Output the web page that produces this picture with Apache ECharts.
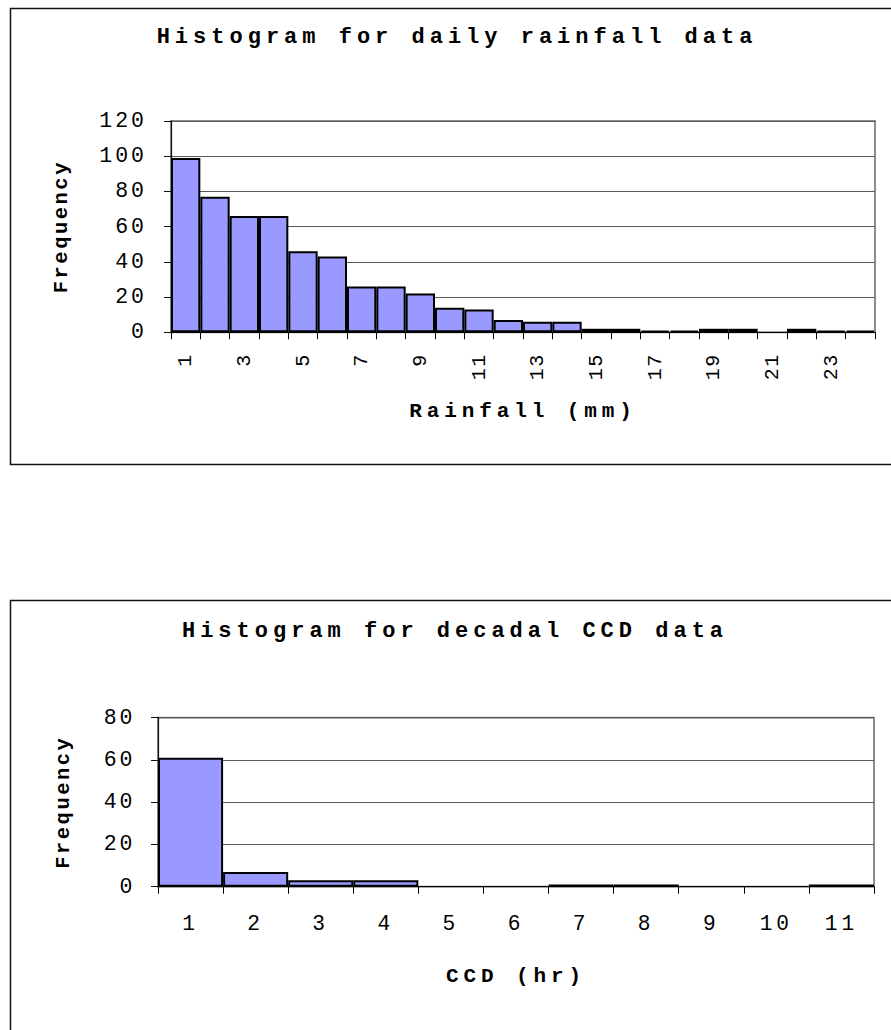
<!DOCTYPE html>
<html>
<head>
<meta charset="utf-8">
<script src="https://cdn.jsdelivr.net/npm/echarts@6/dist/echarts.min.js"></script>
<style>
html, body { margin: 0; padding: 0; background: #fff; }
#chart { width: 891px; height: 1030px; }
/* widen the monospaced text to match the reference's spacing */
#chart text[style*="22px"]   { letter-spacing: 5px; }
#chart text[style*="21px"]   { letter-spacing: 4.9px; }
#chart text[style*="20.5px"] { letter-spacing: 2.5px; }
#chart text[style*="21.5px"] { letter-spacing: 3px; }
#chart text[style*="20px"]   { letter-spacing: 1.5px; }
#chart text[style*="21.2px"] { letter-spacing: 4px; }
</style>
</head>
<body>
<div id="chart"></div>
<script>
// ---------- data ----------
const rainTitle = 'Histogram for daily rainfall data';
const rainXName = 'Rainfall (mm)';
const rainCategories = ['1','2','3','4','5','6','7','8','9','10','11','12','13','14','15','16','17','18','19','20','21','22','23','24'];
const rainFrequency = [99, 77, 66, 66, 46, 43, 26, 26, 22, 14, 13, 7, 6, 6, 2, 2, 1, 1, 2, 2, 0, 2, 1, 1];
const rainYMax = 120;

const ccdTitle = 'Histogram for decadal CCD data';
const ccdXName = 'CCD (hr)';
const ccdCategories = ['1','2','3','4','5','6','7','8','9','10','11'];
const ccdFrequency = [61, 7, 3, 3, 0, 0, 1, 1, 0, 0, 1];
const ccdYMax = 80;

const yName = 'Frequency';
const yInterval = 20;

// ---------- style ----------
const FONT = '"Liberation Mono", "Courier New", monospace';
const BAR_COLOR = '#9999FF';

function barData(values) {
  return values.map(v => v === 0 ? { value: v, itemStyle: { borderWidth: 0 } } : v);
}

function xAxisOf(gridIndex, cats, name, nameGap, labelOpts) {
  return {
    type: 'category', gridIndex, data: cats, boundaryGap: true,
    name, nameLocation: 'middle', nameGap,
    nameTextStyle: { fontFamily: FONT, fontSize: 21, fontWeight: 'bold', color: '#000' },
    axisLine: { show: true, lineStyle: { color: '#000', width: 1 } },
    axisTick: { show: true, interval: 0, length: 7, lineStyle: { color: '#000', width: 1 } },
    axisLabel: Object.assign({ fontFamily: FONT, color: '#000' }, labelOpts),
    splitLine: { show: false }
  };
}

function yAxisOf(gridIndex, max, nameGap, labelMargin) {
  return {
    type: 'value', gridIndex, min: 0, max, interval: yInterval,
    name: yName, nameLocation: 'middle', nameGap, nameRotate: 90,
    nameTextStyle: { fontFamily: FONT, fontSize: 20.5, fontWeight: 'bold', color: '#000' },
    axisLine: { show: true, lineStyle: { color: '#111', width: 1.2 } },
    axisTick: { show: true, length: 7, lineStyle: { color: '#111', width: 1 } },
    axisLabel: { fontFamily: FONT, fontSize: 21.5, color: '#000', margin: labelMargin },
    splitLine: { show: true, lineStyle: { color: '#5a5a5a', width: 1 } }
  };
}

const chart = echarts.init(document.getElementById('chart'), null, { renderer: 'svg' });

chart.setOption({
  animation: false,
  backgroundColor: '#fff',
  graphic: [
    { type: 'rect', shape: { x: 10.5, y: 8.5, width: 900, height: 456 },
      style: { fill: 'none', stroke: '#111', lineWidth: 1.5 }, z: 0 },
    { type: 'rect', shape: { x: 10.5, y: 600.5, width: 900, height: 500 },
      style: { fill: 'none', stroke: '#111', lineWidth: 1.5 }, z: 0 },
    { type: 'text', x: 457, y: 26,
      style: { text: rainTitle, font: 'bold 22px ' + FONT, fill: '#000', textAlign: 'center', textVerticalAlign: 'top' } },
    { type: 'text', x: 455, y: 620,
      style: { text: ccdTitle, font: 'bold 22px ' + FONT, fill: '#000', textAlign: 'center', textVerticalAlign: 'top' } }
  ],
  grid: [
    { left: 171, top: 121, width: 704, height: 211.3, show: true, borderColor: '#8c8c8c', borderWidth: 2,
      backgroundColor: 'transparent', containLabel: false, outerBoundsMode: 'none' },
    { left: 158, top: 717.7, width: 716, height: 169, show: true, borderColor: '#8c8c8c', borderWidth: 2,
      backgroundColor: 'transparent', containLabel: false, outerBoundsMode: 'none' }
  ],
  xAxis: [
    xAxisOf(0, rainCategories, rainXName, 68.7, { interval: 1, rotate: 90, margin: 21, fontSize: 20 }),
    xAxisOf(1, ccdCategories, ccdXName, 79, { interval: 0, margin: 27, fontSize: 21.2 })
  ],
  yAxis: [
    yAxisOf(0, rainYMax, 99.5, 24),
    yAxisOf(1, ccdYMax, 84, 22.5)
  ],
  series: [
    { type: 'bar', xAxisIndex: 0, yAxisIndex: 0, data: barData(rainFrequency),
      barCategoryGap: '0%', itemStyle: { color: BAR_COLOR, borderColor: '#000', borderWidth: 2 } },
    { type: 'bar', xAxisIndex: 1, yAxisIndex: 1, data: barData(ccdFrequency),
      barCategoryGap: '0%', itemStyle: { color: BAR_COLOR, borderColor: '#000', borderWidth: 2 } }
  ]
});
</script>
</body>
</html>
